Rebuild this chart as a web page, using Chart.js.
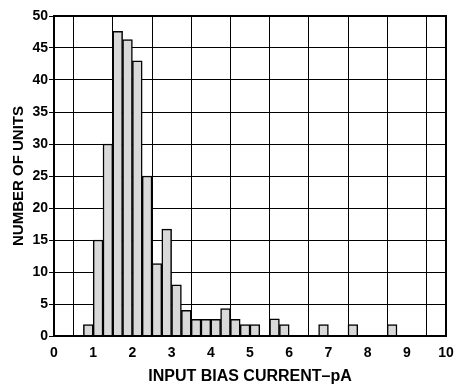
<!DOCTYPE html>
<html>
<head>
<meta charset="utf-8">
<script src="https://cdn.jsdelivr.net/npm/chart.js@4"></script>
<style>
  html, body { margin: 0; padding: 0; background: #fff; }
  #wrap { width: 457px; height: 385px; }
</style>
</head>
<body>
<div id="wrap"><canvas id="HistChart"></canvas></div>
<script>
// histogram bins (pA), each 0.25 wide
const binWidth = 0.25;
const binStart = [0.75, 1.0, 1.25, 1.5, 1.75, 2.0, 2.25, 2.5, 2.75, 3.0, 3.25, 3.5,
  3.75, 4.0, 4.25, 4.5, 4.75, 5.0, 5.5, 5.75, 6.75, 7.5, 8.5];
const unitCounts = [1.8, 15, 30, 47.6, 46.3, 43, 25, 11.3, 16.7, 8, 4, 2.6,
  2.6, 2.6, 4.3, 2.6, 1.8, 1.8, 2.7, 1.8, 1.8, 1.8, 1.8];

const xTitle = "INPUT BIAS CURRENT\u2013pA";
const yTitle = "NUMBER OF UNITS";

const fontFamily = "'Liberation Sans', Arial, sans-serif";

const frame = {
  id: "frame",
  afterDatasetsDraw(chart) {
    const { ctx, chartArea: a } = chart;
    ctx.save();
    ctx.strokeStyle = "#000";
    ctx.lineWidth = 2;
    ctx.strokeRect(a.left, a.top, a.right - a.left, a.bottom - a.top);
    ctx.restore();
  },
};

const ctx = document.getElementById("HistChart");

new Chart(ctx, {
  type: "bar",
  data: {
    datasets: [
      {
        data: binStart.map((s, i) => ({ x: s + binWidth / 2, y: unitCounts[i] })),
        backgroundColor: "#d9d9d9",
        borderColor: "#000",
        borderWidth: 1.5,
        borderSkipped: "start",
        barPercentage: 1,
        categoryPercentage: 1,
      },
    ],
  },
  options: {
    responsive: true,
    maintainAspectRatio: false,
    animation: false,
    layout: { padding: { top: 16, right: 11, bottom: 0, left: 0 } },
    plugins: {
      legend: { display: false },
      tooltip: { enabled: false },
    },
    scales: {
      x: {
        type: "linear",
        min: 0,
        max: 10,
        offset: false,
        afterFit: (s) => {
          s.height = 49;
          s.paddingLeft = 0;
          s.paddingRight = 0;
        },
        ticks: {
          stepSize: 1,
          color: "#000",
          padding: 9,
          maxRotation: 0,
          font: { family: fontFamily, size: 14, weight: "bold" },
        },
        grid: { color: "#000", lineWidth: 1, drawTicks: false },
        border: { color: "#000", width: 2 },
        title: {
          display: true,
          text: xTitle,
          color: "#000",
          padding: { top: 0, bottom: -1 },
          font: { family: fontFamily, size: 16, weight: "bold" },
        },
      },
      y: {
        min: 0,
        max: 50,
        afterFit: (s) => { s.width = 54; },
        ticks: {
          stepSize: 5,
          color: "#000",
          padding: 1,
          font: { family: fontFamily, size: 14, weight: "bold" },
        },
        grid: { color: "#000", lineWidth: 1, tickLength: 5 },
        border: { color: "#000", width: 2 },
        title: {
          display: true,
          text: yTitle,
          color: "#000",
          padding: { top: 10, bottom: 0 },
          font: { family: fontFamily, size: 15, weight: "bold" },
        },
      },
    },
  },
  plugins: [frame],
});
</script>
</body>
</html>
